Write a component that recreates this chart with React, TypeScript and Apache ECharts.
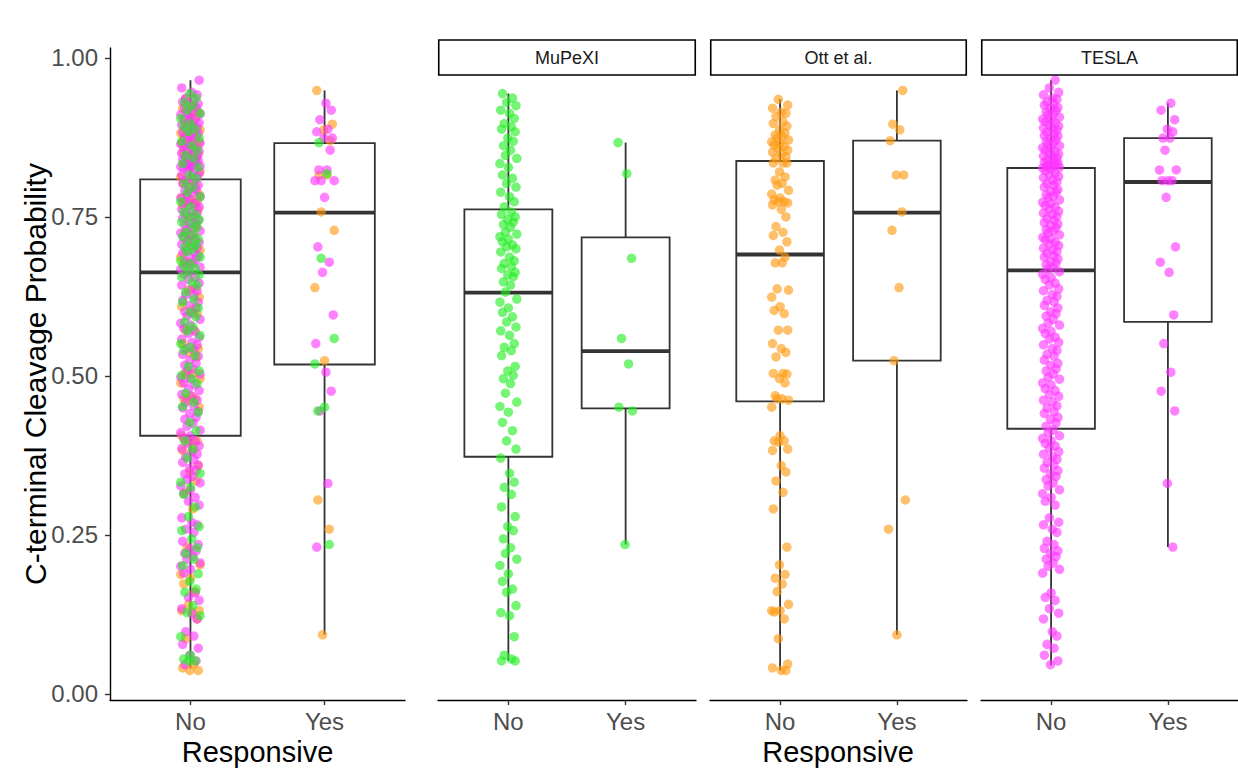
import React, { useEffect, useRef } from "react";
import * as echarts from "echarts";

const CATEGORIES = ["No", "Yes"];
const STRIP_LABELS = ["MuPeXI", "Ott et al.", "TESLA"];
const Y_TICKS = [0, 0.25, 0.5, 0.75, 1.0];
const Y_TITLE = "C-terminal Cleavage Probability";
const X_TITLE = "Responsive";

const MUPEXI_NO = [
  0.944, 0.937, 0.93, 0.925, 0.918, 0.913, 0.905, 0.897, 0.892, 0.888, 0.884, 0.874, 0.869, 0.862, 0.855,
  0.847, 0.842, 0.834, 0.828, 0.816, 0.811, 0.803, 0.797, 0.789, 0.782, 0.774, 0.766, 0.758, 0.754, 0.75,
  0.746, 0.742, 0.738, 0.734, 0.726, 0.723, 0.719, 0.715, 0.711, 0.706, 0.703, 0.7, 0.695, 0.687, 0.681,
  0.677, 0.672, 0.669, 0.663, 0.659, 0.656, 0.648, 0.643, 0.632, 0.621, 0.616, 0.607, 0.6, 0.593, 0.585,
  0.577, 0.571, 0.564, 0.551, 0.545, 0.54, 0.532, 0.515, 0.508, 0.501, 0.496, 0.488, 0.473, 0.459, 0.452,
  0.443, 0.427, 0.414, 0.398, 0.385, 0.371, 0.347, 0.333, 0.325, 0.314, 0.294, 0.279, 0.263, 0.257, 0.244,
  0.23, 0.221, 0.212, 0.202, 0.189, 0.177, 0.165, 0.16, 0.139, 0.128, 0.123, 0.09, 0.061, 0.055, 0.052, 0.052,
];
const MUPEXI_YES = [0.867, 0.818, 0.685, 0.559, 0.519, 0.451, 0.445, 0.235];

const OTT_NO = [
  0.935, 0.926, 0.921, 0.915, 0.913, 0.908, 0.9, 0.897, 0.893, 0.887, 0.882, 0.879, 0.876, 0.874, 0.871,
  0.868, 0.866, 0.863, 0.861, 0.858, 0.855, 0.852, 0.849, 0.845, 0.842, 0.835, 0.835, 0.835, 0.821, 0.813,
  0.808, 0.803, 0.8, 0.792, 0.786, 0.78, 0.777, 0.774, 0.774, 0.772, 0.769, 0.762, 0.75, 0.735, 0.726,
  0.721, 0.711, 0.698, 0.687, 0.678, 0.678, 0.637, 0.635, 0.624, 0.609, 0.603, 0.598, 0.572, 0.572, 0.551,
  0.543, 0.537, 0.53, 0.504, 0.504, 0.503, 0.496, 0.489, 0.469, 0.464, 0.464, 0.462, 0.451, 0.406, 0.398,
  0.398, 0.396, 0.385, 0.383, 0.359, 0.349, 0.335, 0.317, 0.291, 0.231, 0.203, 0.188, 0.182, 0.173, 0.161,
  0.141, 0.131, 0.131, 0.129, 0.118, 0.087, 0.047, 0.041, 0.037, 0.037,
];
const OTT_YES = [0.949, 0.896, 0.887, 0.87, 0.816, 0.816, 0.758, 0.729, 0.639, 0.524, 0.305, 0.259, 0.093];

const TESLA_NO = [
  0.965, 0.953, 0.946, 0.942, 0.937, 0.935, 0.931, 0.928, 0.926, 0.922, 0.921, 0.917, 0.915, 0.912, 0.911,
  0.907, 0.904, 0.903, 0.9, 0.898, 0.895, 0.893, 0.89, 0.889, 0.886, 0.883, 0.881, 0.878, 0.877, 0.874,
  0.871, 0.869, 0.866, 0.865, 0.862, 0.859, 0.858, 0.855, 0.853, 0.85, 0.849, 0.846, 0.845, 0.842, 0.84,
  0.839, 0.836, 0.835, 0.834, 0.832, 0.83, 0.83, 0.829, 0.828, 0.827,
  0.825, 0.823, 0.819, 0.816, 0.814, 0.812, 0.808, 0.805, 0.803, 0.8, 0.797, 0.793, 0.791, 0.789, 0.785,
  0.782, 0.78, 0.777, 0.773, 0.771, 0.768, 0.766, 0.762, 0.759, 0.756, 0.754, 0.751, 0.748, 0.745, 0.741,
  0.739, 0.737, 0.733, 0.73, 0.728, 0.725, 0.722, 0.718, 0.716, 0.714, 0.71, 0.707, 0.705, 0.701, 0.698,
  0.696, 0.693, 0.689, 0.687, 0.684, 0.68, 0.677, 0.675, 0.671, 0.668,
  0.664, 0.66, 0.655, 0.652, 0.646, 0.643, 0.637, 0.634, 0.628, 0.625, 0.619, 0.616, 0.611, 0.607, 0.601,
  0.598, 0.594, 0.589, 0.583, 0.58, 0.575, 0.57, 0.567, 0.561, 0.558, 0.553, 0.549, 0.543, 0.54, 0.534,
  0.531, 0.525, 0.52, 0.517, 0.511, 0.508, 0.503, 0.498, 0.495, 0.489, 0.486, 0.48, 0.477, 0.471, 0.468,
  0.462, 0.459, 0.453, 0.45, 0.444, 0.441, 0.435, 0.432, 0.426, 0.421,
  0.415, 0.411, 0.406, 0.402, 0.398, 0.394, 0.39, 0.386, 0.381, 0.377, 0.373, 0.369, 0.364, 0.36, 0.355,
  0.351, 0.346, 0.342, 0.337, 0.332, 0.327, 0.321, 0.315, 0.309, 0.303, 0.297, 0.277, 0.27, 0.266, 0.259,
  0.254, 0.24, 0.235, 0.229, 0.225, 0.221, 0.216, 0.212, 0.206, 0.201, 0.196, 0.19, 0.159, 0.152, 0.147,
  0.134, 0.127, 0.118, 0.098, 0.091, 0.078, 0.072, 0.061, 0.052, 0.046,
];
const TESLA_YES = [
  0.929, 0.918, 0.903, 0.888, 0.884, 0.874, 0.874, 0.855, 0.824, 0.824, 0.807, 0.807, 0.807, 0.781, 0.703,
  0.679, 0.663, 0.596, 0.551, 0.506, 0.476, 0.445, 0.331, 0.231,
];

// Box summaries: [lower whisker, Q1, median, Q3, upper whisker]
const BOX_ALL = [
  [0.04, 0.406, 0.663, 0.809, 0.965],
  [0.093, 0.518, 0.757, 0.866, 0.949],
];
const BOX_MUPEXI = [
  [0.052, 0.373, 0.631, 0.762, 0.944],
  [0.235, 0.449, 0.539, 0.718, 0.867],
];
const BOX_OTT = [
  [0.037, 0.46, 0.691, 0.838, 0.935],
  [0.093, 0.524, 0.757, 0.87, 0.949],
];
const BOX_TESLA = [
  [0.045, 0.417, 0.666, 0.827, 0.965],
  [0.231, 0.585, 0.805, 0.874, 0.929],
];

// hand-picked horizontal jitter offsets (in category units)
const JITTER = [
  -0.05, 0.035, -0.015, 0.065, -0.065, 0.01, 0.05, -0.035, 0.025, -0.058, 0.058, -0.005, 0.042, -0.042, 0.018,
  -0.025, 0.072, -0.072, 0.0,
];

const COL_MUPEXI = "#22EE22";
const COL_OTT = "#FF9A10";
const COL_TESLA = "#FF33FF";

const FONT = "'Liberation Sans', Arial, Helvetica, sans-serif";
const Y_MIN = -0.0095;
const Y_MAX = 1.0157;
const GRID_TOP = 48;
const GRID_HEIGHT = 652;
const GRIDS = [
  { left: 110, width: 295 },
  { left: 438, width: 258 },
  { left: 710, width: 257 },
  { left: 981, width: 257 },
];

function jitterPoints(values: number[], cat: number, color: string, shift: number) {
  return values.map((v, i) => ({
    value: [cat + JITTER[(i + shift) % JITTER.length], v],
    itemStyle: { color, opacity: 0.62 },
  }));
}

export default function App() {
  const ref = useRef<HTMLDivElement>(null);

  useEffect(() => {
    document.body.style.margin = "0";
    if (!ref.current) return;
    const chart = echarts.init(ref.current, null, { renderer: "svg" });

    const boxSets = [BOX_ALL, BOX_MUPEXI, BOX_OTT, BOX_TESLA];

    const pointSets = [
      [
        ...jitterPoints(OTT_NO, 1, COL_OTT, 7),
        ...jitterPoints(OTT_YES, 2, COL_OTT, 9),
        ...jitterPoints(TESLA_NO, 1, COL_TESLA, 3),
        ...jitterPoints(TESLA_YES, 2, COL_TESLA, 5),
        ...jitterPoints(MUPEXI_NO, 1, COL_MUPEXI, 11),
        ...jitterPoints(MUPEXI_YES, 2, COL_MUPEXI, 13),
      ],
      [...jitterPoints(MUPEXI_NO, 1, COL_MUPEXI, 0), ...jitterPoints(MUPEXI_YES, 2, COL_MUPEXI, 4)],
      [...jitterPoints(OTT_NO, 1, COL_OTT, 2), ...jitterPoints(OTT_YES, 2, COL_OTT, 6)],
      [...jitterPoints(TESLA_NO, 1, COL_TESLA, 1), ...jitterPoints(TESLA_YES, 2, COL_TESLA, 8)],
    ];

    const grid = GRIDS.map((g) => ({ left: g.left, width: g.width, top: GRID_TOP, height: GRID_HEIGHT }));

    const xAxis = GRIDS.map((_, i) => ({
      type: "value",
      gridIndex: i,
      min: 0.4,
      max: 2.6,
      axisLine: { show: true, onZero: false, lineStyle: { color: "#000", width: 1.4 } },
      axisTick: { show: true, customValues: [1, 2], length: 5, lineStyle: { color: "#333", width: 1.4 } },
      axisLabel: {
        show: true,
        customValues: [1, 2],
        formatter: (v: number) => CATEGORIES[Math.round(v) - 1] ?? "",
        fontSize: 24,
        color: "#4d4d4d",
        fontFamily: FONT,
        margin: 9,
      },
      splitLine: { show: false },
    }));

    const yAxis = GRIDS.map((_, i) => ({
      type: "value",
      gridIndex: i,
      min: Y_MIN,
      max: Y_MAX,
      show: i === 0,
      axisLine: { show: true, onZero: false, lineStyle: { color: "#000", width: 1.4 } },
      axisTick: { show: true, customValues: Y_TICKS, length: 5, lineStyle: { color: "#333", width: 1.4 } },
      axisLabel: {
        show: true,
        customValues: Y_TICKS,
        formatter: (v: number) => v.toFixed(2),
        fontSize: 24,
        color: "#4d4d4d",
        fontFamily: FONT,
        margin: 12,
      },
      splitLine: { show: false },
    }));

    const series: any[] = [];
    boxSets.forEach((boxes, i) => {
      series.push({
        type: "custom",
        xAxisIndex: i,
        yAxisIndex: i,
        silent: true,
        z: 1,
        encode: { x: 0, y: [1, 2, 3, 4, 5] },
        data: boxes.map((b, c) => [c + 1, ...b]),
        renderItem: (_params: any, api: any) => {
          const x = api.value(0);
          const low = api.coord([x, api.value(1)]);
          const q1 = api.coord([x, api.value(2)]);
          const med = api.coord([x, api.value(3)]);
          const q3 = api.coord([x, api.value(4)]);
          const high = api.coord([x, api.value(5)]);
          const hw = api.size([0.75, 0])[0] / 2;
          const cx = low[0];
          const ls = { stroke: "#333333", lineWidth: 1.8 };
          return {
            type: "group",
            children: [
              { type: "line", shape: { x1: cx, y1: high[1], x2: cx, y2: q3[1] }, style: ls },
              { type: "line", shape: { x1: cx, y1: q1[1], x2: cx, y2: low[1] }, style: ls },
              {
                type: "rect",
                shape: { x: cx - hw, y: q3[1], width: 2 * hw, height: q1[1] - q3[1] },
                style: { fill: "#ffffff", stroke: "#333333", lineWidth: 1.8 },
              },
              {
                type: "line",
                shape: { x1: cx - hw, y1: med[1], x2: cx + hw, y2: med[1] },
                style: { stroke: "#333333", lineWidth: 3.8 },
              },
            ],
          };
        },
      });
      series.push({
        type: "scatter",
        xAxisIndex: i,
        yAxisIndex: i,
        z: 2,
        symbol: "circle",
        symbolSize: 9.5,
        silent: true,
        data: pointSets[i],
      });
    });

    const graphic: any[] = [];
    STRIP_LABELS.forEach((label, k) => {
      const g = GRIDS[k + 1];
      graphic.push({
        type: "rect",
        shape: { x: g.left + 0.75, y: 40, width: g.width - 1.5, height: 35 },
        style: { fill: "#ffffff", stroke: "#000000", lineWidth: 1.6 },
        z: 10,
      });
      graphic.push({
        type: "text",
        x: g.left + g.width / 2,
        y: 57.5,
        z: 11,
        style: {
          text: label,
          fontSize: 18,
          fontFamily: FONT,
          fill: "#1a1a1a",
          textAlign: "center",
          textVerticalAlign: "middle",
        },
      });
    });
    graphic.push({
      type: "text",
      x: 35,
      y: 374,
      rotation: Math.PI / 2,
      style: {
        text: Y_TITLE,
        fontSize: 30,
        fontFamily: FONT,
        fill: "#000000",
        textAlign: "center",
        textVerticalAlign: "middle",
      },
    });
    graphic.push({
      type: "text",
      x: GRIDS[0].left + GRIDS[0].width / 2,
      y: 752,
      style: {
        text: X_TITLE,
        fontSize: 29,
        fontFamily: FONT,
        fill: "#000000",
        textAlign: "center",
        textVerticalAlign: "middle",
      },
    });
    graphic.push({
      type: "text",
      x: (GRIDS[1].left + GRIDS[3].left + GRIDS[3].width) / 2,
      y: 752,
      style: {
        text: X_TITLE,
        fontSize: 29,
        fontFamily: FONT,
        fill: "#000000",
        textAlign: "center",
        textVerticalAlign: "middle",
      },
    });

    chart.setOption({
      animation: false,
      backgroundColor: "#ffffff",
      grid,
      xAxis,
      yAxis,
      series,
      graphic,
    });

    return () => chart.dispose();
  }, []);

  return <div ref={ref} style={{ width: 1238, height: 769 }} />;
}
